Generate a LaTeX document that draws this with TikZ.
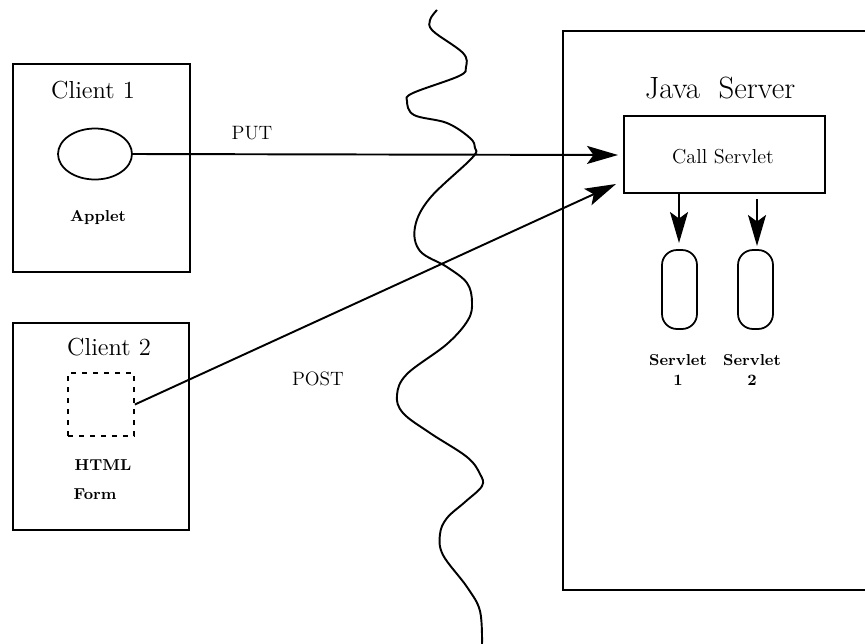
\documentclass[tikz,border=0pt]{standalone}
\usetikzlibrary{arrows.meta,shapes.geometric}
\begin{document}
\begin{tikzpicture}[x=0.02cm,y=-0.02cm,
  box/.style={draw, line width=1.1pt, inner sep=0pt},
  conn/.style={line width=1.1pt, -{Stealth[length=0.62cm,width=0.36cm,inset=0.13cm]}},
  lbl/.style={font=\bfseries\fontsize{9}{10.5}\selectfont, align=center, inner sep=0pt},
  ttl/.style={inner sep=0pt},
  servlet/.style={draw, line width=1pt, rounded corners=0.3cm, minimum width=0.7cm, minimum height=1.58cm, inner sep=0pt}
]
\useasboundingbox (0,0) rectangle (865,643);
% Client 1
\node[box, minimum width=3.54cm, minimum height=4.16cm] (c1) at (101.5,168) {};
\node[ttl, font=\fontsize{14}{16}\selectfont] (c1t) at (93,90) {Client 1};
\node[draw, ellipse, line width=1pt, minimum width=1.48cm, minimum height=1.02cm, inner sep=0pt] (app) at (95,154) {};
\node[lbl] (appt) at (98,217) {Applet};
% Client 2
\node[box, minimum width=3.52cm, minimum height=4.14cm] (c2) at (101,426.5) {};
\node[ttl, font=\fontsize{14}{16}\selectfont] (c2t) at (109,347) {Client 2};
\node[draw, dashed, dash pattern=on 0.1cm off 0.12cm, line width=1pt, minimum width=1.32cm, minimum height=1.26cm, inner sep=0pt] (form) at (101,404.5) {};
\node[lbl] (html) at (103,465) {HTML};
\node[lbl] (formt) at (95,494) {Form};
% Java server
\node[box, minimum width=6.14cm, minimum height=11.18cm] (srv) at (716.5,310.5) {};
\node[ttl, font=\fontsize{17.5}{20}\selectfont] (srvt) at (720,88) {Java\ \ Server};
\node[box, minimum width=4.02cm, minimum height=1.54cm] (cs) at (724.5,154.5) {};
\node[ttl, font=\fontsize{11.5}{13}\selectfont] (cst) at (723,157) {Call Servlet};
\node[servlet] (s1) at (679.5,289.5) {};
\node[servlet] (s2) at (755.5,289.5) {};
\node[lbl, font=\bfseries\fontsize{9}{11}\selectfont] (s1t) at (678,370) {Servlet\\1};
\node[lbl, font=\bfseries\fontsize{9}{11}\selectfont] (s2t) at (752,370) {Servlet\\2};
% connectors
\coordinate (puttip) at (618,155);
\coordinate (posttip) at (616,184);
\coordinate (d1a) at (679,193);
\coordinate (d1b) at (679,243);
\coordinate (d2a) at (757,199);
\coordinate (d2b) at (757,246);
\draw[conn] (app.east) -- (puttip);
\draw[conn] (form.east) -- (posttip);
\draw[conn] (d1a) -- (d1b);
\draw[conn] (d2a) -- (d2b);
\node[ttl, font=\fontsize{11}{12}\selectfont] (put) at (252,133) {PUT};
\node[ttl, font=\fontsize{11}{12}\selectfont] (post) at (318,379) {POST};
% wave (network boundary)
\draw[line width=1.1pt] plot[smooth, tension=0.6] coordinates {
 (437,10) (430,20) (433,31) (463,53) (466,67) (459,76) (413,93) (407,101)
 (414,115) (447,123) (470,138) (475,148) (472,158) (430,198) (415,227)
 (420,251) (447,267) (467,283) (472,302) (468,320) (447,344) (407,374)
 (397,395) (403,413) (430,433) (467,457) (480,474) (482,486) (465,502)
 (447,518) (440,534) (443,555) (467,587) (480,611) (482,645)};
\end{tikzpicture}
\end{document}
